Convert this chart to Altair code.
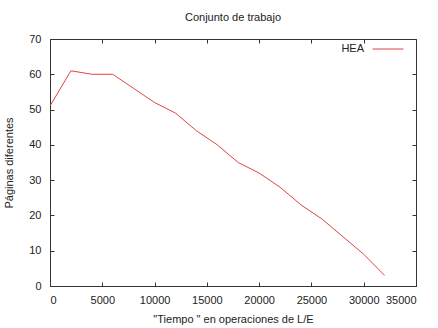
import altair as alt
import pandas as pd

# Data
tiempo = [0, 2000, 4000, 6000, 8000, 10000, 12000, 14000, 16000, 18000,
          20000, 22000, 24000, 26000, 28000, 30000, 32000]
paginas = [51, 61, 60, 60, 56, 52, 49, 44, 40, 35, 32, 28, 23, 19, 14, 9, 3]
serie = ["HEA"] * len(tiempo)
x_ticks = [0, 5000, 10000, 15000, 20000, 25000, 30000, 35000]
y_ticks = [0, 10, 20, 30, 40, 50, 60, 70]

df = pd.DataFrame({"t": tiempo, "p": paginas, "s": serie})

FONT = "Liberation Sans"
TXT = "#222222"
AX = "#333333"
W, H = 366, 247

xs = alt.Scale(domain=[0, 35000], nice=False, zero=False)
ys = alt.Scale(domain=[0, 70], nice=False)

def tick_axis(orient, offset, values):
    return alt.Axis(orient=orient, offset=offset, values=values, labels=False,
                    domain=False, grid=False, ticks=True, tickSize=4,
                    tickColor=AX, tickWidth=1, title=None)

base = alt.Chart(df)

main = base.mark_line(strokeWidth=1).encode(
    x=alt.X("t:Q", scale=xs, axis=alt.Axis(
        orient="bottom", values=x_ticks, format="d", ticks=False, domain=False,
        grid=False, labelPadding=8, labelFont=FONT, labelFontSize=11,
        labelColor=TXT, title='"Tiempo " en operaciones de L/E',
        titleFont=FONT, titleFontSize=11, titleFontWeight="normal",
        titleColor=TXT, titlePadding=8)),
    y=alt.Y("p:Q", scale=ys, axis=alt.Axis(
        orient="left", values=y_ticks, ticks=False, domain=False, grid=False,
        labelPadding=9, labelFont=FONT, labelFontSize=11, labelColor=TXT,
        title="Páginas diferentes", titleFont=FONT, titleFontSize=11,
        titleFontWeight="normal", titleColor=TXT, titlePadding=14)),
    color=alt.Color("s:N", scale=alt.Scale(range=["#e04444"]), legend=alt.Legend(
        orient="none", legendX=322, legendY=-6, title=None, symbolType="stroke",
        symbolSize=961, symbolStrokeWidth=1, labelAlign="right",
        labelOffset={"expr": "-40"},
        labelFont=FONT, labelFontSize=11, labelColor=TXT, padding=0)),
)

ticks_a = base.mark_line(opacity=0).encode(
    x=alt.X("t:Q", scale=xs, axis=tick_axis("top", -H, x_ticks)),
    y=alt.Y("p:Q", scale=ys, axis=tick_axis("right", -W, y_ticks)),
)
ticks_b = base.mark_line(opacity=0).encode(
    x=alt.X("t:Q", scale=xs, axis=tick_axis("bottom", -H, x_ticks)),
    y=alt.Y("p:Q", scale=ys, axis=tick_axis("left", -W, y_ticks)),
)

chart = alt.layer(main, ticks_a, ticks_b).resolve_axis(
    x="independent", y="independent"
).properties(
    width=W, height=H,
    autosize=alt.AutoSizeParams(type="none"),
    padding={"left": 50, "top": 39, "right": 22, "bottom": 42},
    background="white",
    title=alt.TitleParams("Conjunto de trabajo", font=FONT, fontSize=11,
                          fontWeight="normal", color=TXT, anchor="middle",
                          offset=10),
).configure_view(stroke=AX, strokeWidth=1)

chart.save("out.html", embed_options={"renderer": "svg", "actions": False})
